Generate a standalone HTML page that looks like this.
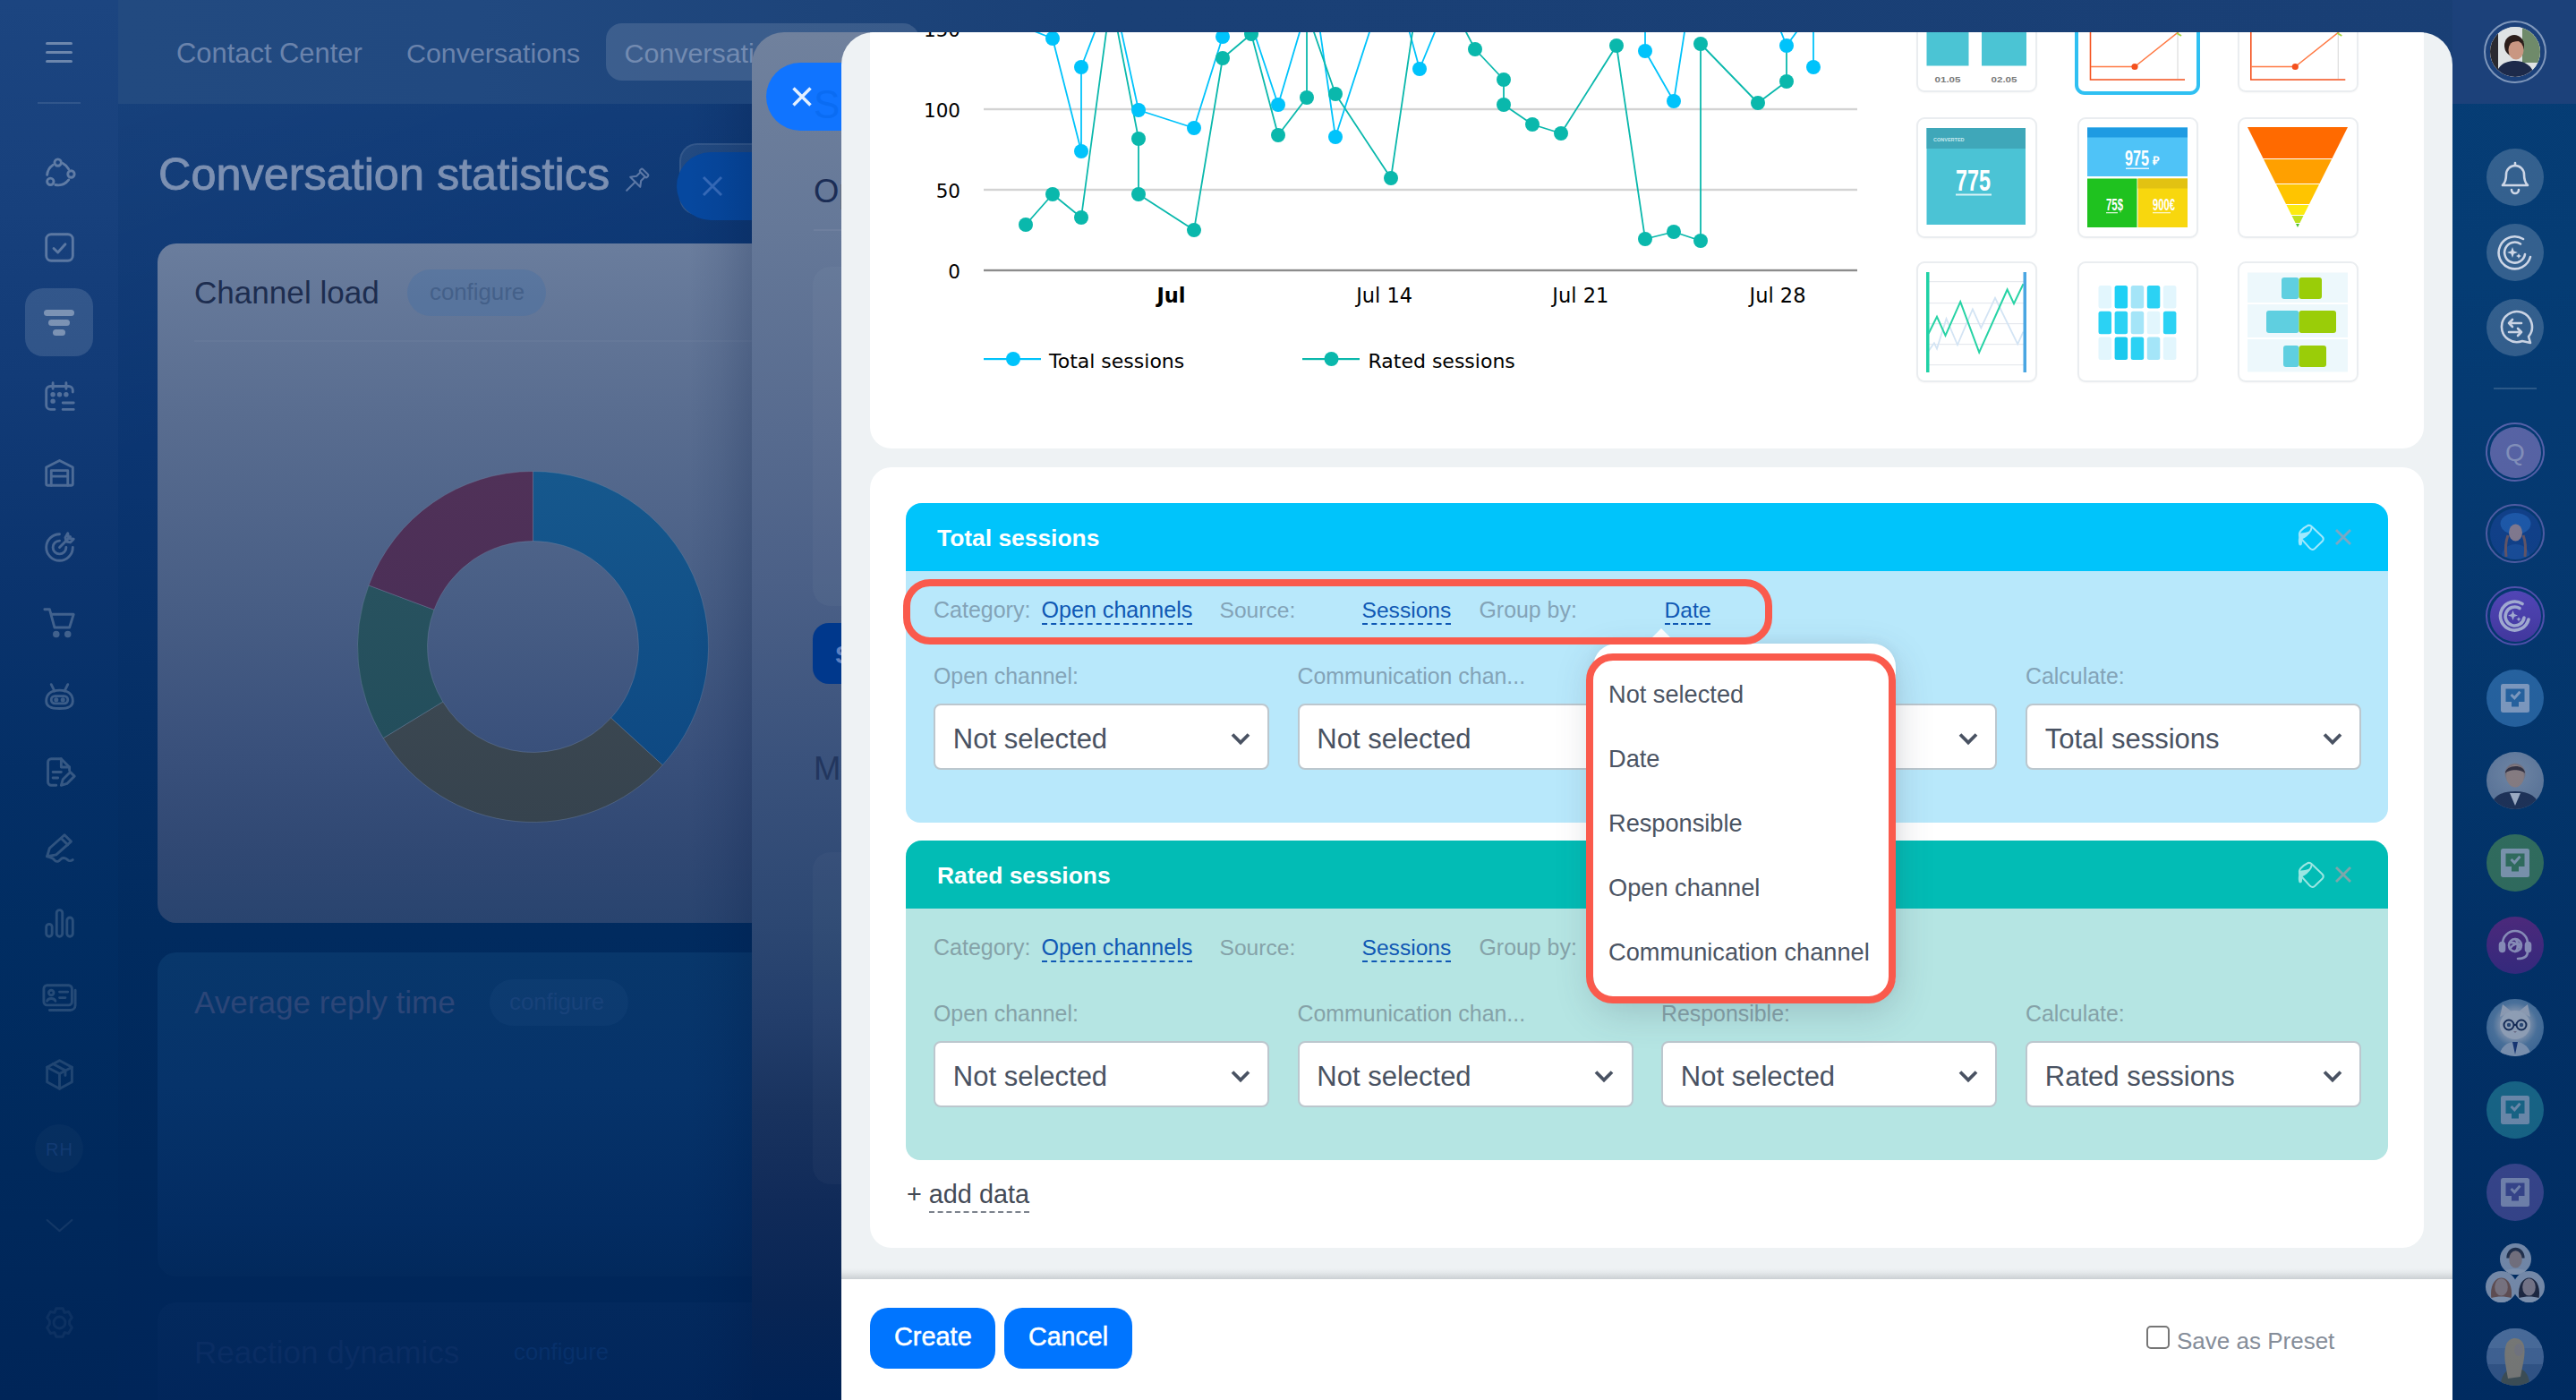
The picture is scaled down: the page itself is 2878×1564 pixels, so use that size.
<!DOCTYPE html>
<html lang="en"><head><meta charset="utf-8"><title>Conversation statistics</title>
<style>
html,body{margin:0;padding:0}
body{width:2878px;height:1564px;overflow:hidden;position:relative;font-family:"Liberation Sans",sans-serif;
background:linear-gradient(180deg,#113c79 0,#0e3976 130px,#0b3571 500px,#052f66 800px,#012b5f 1040px,#00285b 1300px,#002559 1564px);}
.a{position:absolute}
.t{position:absolute;white-space:pre;line-height:1}
svg{position:absolute;overflow:visible}
.lnk{color:#0f58b4;border-bottom:2px dashed #0f58b4}
.sel{position:absolute;height:70px;width:371px;background:#fff;border:2px solid #bcc7ce;border-radius:8px}
.sel svg{right:19.5px;top:30px}
</style></head><body>

<div class="a" style="left:0px;top:0px;width:132px;height:1564px;background:linear-gradient(180deg,#1c4580 0,#18417d 200px,#123b77 420px,#0b346e 640px,#042f66 860px,#012d62 1040px,#00295c 1300px,#002558 1564px);"></div>
<div class="a" style="left:132px;top:0px;width:2746px;height:116px;background:linear-gradient(90deg,#224a80 0,#214980 400px,#1d447a 800px,#1a4076 1100px,#193f75 100%);"></div>
<div class="a" style="left:132px;top:116px;width:720px;height:420px;background:linear-gradient(160deg,rgba(255,255,255,.035) 0,rgba(255,255,255,0) 60%);"></div>
<div class="a" style="left:51px;top:46.5px;width:30px;height:3px;background:rgba(255,255,255,.36);border-radius:2px"></div>
<div class="a" style="left:51px;top:56.5px;width:30px;height:3px;background:rgba(255,255,255,.36);border-radius:2px"></div>
<div class="a" style="left:51px;top:66.5px;width:30px;height:3px;background:rgba(255,255,255,.36);border-radius:2px"></div>
<div class="a" style="left:42px;top:114px;width:48px;height:2px;background:rgba(255,255,255,.10);"></div>
<div class="t" style="left:197px;top:42px;font-size:30.9px;line-height:35px;color:#6a83ac;">Contact Center</div>
<div class="t" style="left:454px;top:42px;font-size:30.4px;line-height:34px;color:#6a83ac;">Conversations</div>
<div class="a" style="left:677px;top:26px;width:350px;height:64px;background:rgba(255,255,255,.13);border-radius:18px"></div>
<div class="t" style="left:697.5px;top:42px;font-size:30.4px;line-height:34px;color:#738bb1;">Conversation statistics</div>
<div class="t" style="left:177px;top:166px;font-size:50.4px;line-height:57px;color:#7c90b2;-webkit-text-stroke:0.9px #7c90b2;">Conversation statistics</div>
<svg style="left:697px;top:188.5px;" width="28" height="28" viewBox="0 0 28 28"><g transform="translate(14.500,12.500) rotate(45)" fill="none" stroke="#5c78a6" stroke-width="2.100" stroke-linejoin="round" stroke-linecap="round"><rect x="-5.500" y="-13.500" width="11" height="4.200" rx="1.500"/><path d="M-3.600 -9.300V-3L-7.800 2.500H7.800L3.600 -3V-9.300"/><path d="M0 2.500V16"/></g></svg>
<div class="a" style="left:759px;top:160px;width:120px;height:80px;background:rgba(255,255,255,.08);border-radius:20px;border:2px solid rgba(255,255,255,.08);box-sizing:border-box"></div>
<div class="a" style="left:756px;top:170px;width:130px;height:76px;background:#06489f;border-radius:38px 0 0 38px"></div>
<svg style="left:782.5px;top:194.5px;" width="26" height="26" viewBox="0 0 26 26"><path d="M3 3L23 23M23 3L3 23" stroke="#376cbb" stroke-width="3" fill="none"/></svg>
<div class="a" style="left:176px;top:272px;width:700px;height:759px;background:linear-gradient(180deg,#6a7d9d 0,#596d90 190px,#485e85 400px,#39507b 570px,#304873 680px,#29446f 759px);border-radius:21px 0 0 21px"></div>
<div class="t" style="left:217px;top:307px;font-size:35.1px;line-height:39px;color:#1d2d4f;">Channel load</div>
<div class="a" style="left:455px;top:301px;width:155px;height:52px;background:rgba(60,110,170,.30);border-radius:26px"></div>
<div class="t" style="left:480px;top:312px;font-size:25.8px;line-height:28px;color:#446089;">configure</div>
<div class="a" style="left:217px;top:380px;width:640px;height:2px;background:rgba(255,255,255,.035);"></div>
<svg style="left:0px;top:0px;" width="900" height="1100" viewBox="0 0 900 1100"><defs><linearGradient id="dg0" x1="0" y1="0" x2="0" y2="1"><stop offset="0" stop-color="#16588d"/><stop offset="1" stop-color="#0e4983"/></linearGradient><linearGradient id="dg1" x1="0" y1="0" x2="0" y2="1"><stop offset="0" stop-color="#3b4751"/><stop offset="1" stop-color="#36434e"/></linearGradient><linearGradient id="dg2" x1="0" y1="0" x2="0" y2="1"><stop offset="0" stop-color="#28525f"/><stop offset="1" stop-color="#234e5c"/></linearGradient><linearGradient id="dg3" x1="0" y1="0" x2="0" y2="1"><stop offset="0" stop-color="#503158"/><stop offset="1" stop-color="#4b2f57"/></linearGradient></defs><path d="M595.5 526.5A196 196 0 0 1 740.2 854.7L682.6 802.1A118 118 0 0 0 595.5 604.5Z" fill="url(#dg0)" stroke="rgba(120,140,170,.35)" stroke-width="1"/><path d="M740.2 854.7A196 196 0 0 1 428.2 824.6L494.8 784.0A118 118 0 0 0 682.6 802.1Z" fill="url(#dg1)" stroke="rgba(120,140,170,.35)" stroke-width="1"/><path d="M428.2 824.6A196 196 0 0 1 411.9 653.9L485.0 681.2A118 118 0 0 0 494.8 784.0Z" fill="url(#dg2)" stroke="rgba(120,140,170,.35)" stroke-width="1"/><path d="M411.9 653.9A196 196 0 0 1 595.5 526.5L595.5 604.5A118 118 0 0 0 485.0 681.2Z" fill="url(#dg3)" stroke="rgba(120,140,170,.35)" stroke-width="1"/></svg>
<div class="a" style="left:176px;top:1064px;width:700px;height:362px;background:linear-gradient(180deg,#08376b 0,#06336a 150px,#032c62 300px,#02295c 362px);border-radius:21px 0 0 21px"></div>
<div class="t" style="left:217px;top:1100px;font-size:35.1px;line-height:39px;color:#2c4678;">Average reply time</div>
<div class="a" style="left:547px;top:1094px;width:155px;height:52px;background:rgba(120,160,210,.05);border-radius:26px"></div>
<div class="t" style="left:569px;top:1105px;font-size:25.8px;line-height:28px;color:#18427a;">configure</div>
<div class="a" style="left:176px;top:1455px;width:664px;height:140px;background:linear-gradient(180deg,#03295d 0,#01255a 100%);border-radius:21px 0 0 21px"></div>
<div class="t" style="left:217px;top:1491px;font-size:35.1px;line-height:39px;color:#0a2d63;">Reaction dynamics</div>
<div class="t" style="left:574px;top:1496px;font-size:25.8px;line-height:28px;color:#07306a;">configure</div>
<svg style="left:47.5px;top:175.5px;" width="37" height="37" viewBox="0 0 40 40"><g fill="none" stroke="#fff" stroke-width="3.1" stroke-linecap="round" stroke-linejoin="round" opacity="0.3093282984483979"><circle cx="18" cy="6" r="4"/><circle cx="34" cy="20" r="4"/><circle cx="9" cy="29" r="4"/><path d="M12 9A16 16 0 0 0 5 21"/><path d="M24 7A16 16 0 0 1 31 14"/><path d="M31 27A16 16 0 0 1 15 33"/></g></svg>
<svg style="left:47.5px;top:257.5px;" width="37" height="37" viewBox="0 0 40 40"><g fill="none" stroke="#fff" stroke-width="3.1" stroke-linecap="round" stroke-linejoin="round" opacity="0.2974623605126993"><rect x="4" y="4" width="32" height="32" rx="6"/><path d="M13 21l5 5 9-10"/></g></svg>
<div class="a" style="left:28px;top:322px;width:76px;height:76px;background:rgba(255,255,255,.13);border-radius:20px"></div>
<svg style="left:46px;top:340px;" width="40" height="40" viewBox="0 0 40 40"><g fill="#fff" opacity=".36"><rect x="3" y="6" width="34" height="7" rx="3.5"/><rect x="8" y="17" width="24" height="7" rx="3.5"/><rect x="13" y="28" width="14" height="7" rx="3.5"/></g></svg>
<svg style="left:47.5px;top:424.5px;" width="37" height="37" viewBox="0 0 40 40"><g fill="none" stroke="#fff" stroke-width="3.1" stroke-linecap="round" stroke-linejoin="round" opacity="0.2712166478749272"><path d="M36 14V12a5 5 0 0 0-5-5H9a5 5 0 0 0-5 5v18a5 5 0 0 0 5 5h5"/><path d="M12 3v7M28 3v7"/><path d="M24 27h13M24 35h13"/><circle cx="12" cy="17" r="1.4" fill="#fff"/><circle cx="20" cy="17" r="1.4" fill="#fff"/><circle cx="28" cy="17" r="1.4" fill="#fff"/><circle cx="12" cy="25" r="1.4" fill="#fff"/></g></svg>
<svg style="left:47.5px;top:508.5px;" width="37" height="37" viewBox="0 0 40 40"><g fill="none" stroke="#fff" stroke-width="3.1" stroke-linecap="round" stroke-linejoin="round" opacity="0.256968039470176"><path d="M4 34V14l16-8 16 8v20a2 2 0 0 1-2 2H6a2 2 0 0 1-2-2z"/><path d="M10 36V18h20v18M10 25h20"/></g></svg>
<svg style="left:47.5px;top:592.5px;" width="37" height="37" viewBox="0 0 40 40"><g fill="none" stroke="#fff" stroke-width="3.1" stroke-linecap="round" stroke-linejoin="round" opacity="0.24213797607305873"><path d="M36 20A16 16 0 1 1 20 4"/><path d="M28 20A8 8 0 1 1 20 12"/><path d="M20 20L33 7M30 3l1 6 6 1-4 4-5-1-1-5z"/></g></svg>
<svg style="left:47.5px;top:676.5px;" width="37" height="37" viewBox="0 0 40 40"><g fill="none" stroke="#fff" stroke-width="3.1" stroke-linecap="round" stroke-linejoin="round" opacity="0.22678788061108635"><path d="M2 4h6l6 22h18l5-16H11"/><circle cx="16" cy="34" r="2.5" fill="#fff"/><circle cx="30" cy="34" r="2.5" fill="#fff"/></g></svg>
<svg style="left:47.5px;top:759.5px;" width="37" height="37" viewBox="0 0 40 40"><g fill="none" stroke="#fff" stroke-width="3.1" stroke-linecap="round" stroke-linejoin="round" opacity="0.21115684121885703"><path d="M4 25c0-9 7-13 16-13s16 4 16 13c0 6-4 9-16 9S4 31 4 25z"/><rect x="10" y="19" width="20" height="9" rx="4.5"/><path d="M10 5l4 8M30 5l-4 8"/><circle cx="16" cy="23.5" r="1.2" fill="#fff"/><circle cx="24" cy="23.5" r="1.2" fill="#fff"/></g></svg>
<svg style="left:47.5px;top:843.5px;" width="37" height="37" viewBox="0 0 40 40"><g fill="none" stroke="#fff" stroke-width="3.1" stroke-linecap="round" stroke-linejoin="round" opacity="0.19490671180406272"><path d="M16 36H10a4 4 0 0 1-4-4V8a4 4 0 0 1 4-4h12l10 10v4"/><path d="M22 4v10h10"/><path d="M12 20h10M12 27h6"/><path d="M22 36l2-7 9-9 5 5-9 9z"/></g></svg>
<svg style="left:47.5px;top:928.5px;" width="37" height="37" viewBox="0 0 40 40"><g fill="none" stroke="#fff" stroke-width="3.1" stroke-linecap="round" stroke-linejoin="round" opacity="0.1780547373844573"><path d="M5 30l3-10L26 4l8 8-18 16z"/><path d="M22 8l8 8"/><path d="M5 30l6 2c3 1 3 5 7 4s3-5 8-4 4 6 10 2"/></g></svg>
<svg style="left:47.5px;top:1011.5px;" width="37" height="37" viewBox="0 0 40 40"><g fill="none" stroke="#fff" stroke-width="3.1" stroke-linecap="round" stroke-linejoin="round" opacity="0.16122962272830074"><rect x="4" y="22" width="7" height="15" rx="3.5"/><rect x="16.5" y="5" width="7" height="32" rx="3.5"/><rect x="29" y="14" width="7" height="23" rx="3.5"/></g></svg>
<svg style="left:47.5px;top:1096.5px;" width="37" height="37" viewBox="0 0 40 40"><g fill="none" stroke="#fff" stroke-width="3.1" stroke-linecap="round" stroke-linejoin="round" opacity="0.1436440452624253"><rect x="1" y="4" width="34" height="24" rx="4"/><path d="M39 10v18a6 6 0 0 1-6 6H8"/><circle cx="10" cy="13" r="3"/><path d="M5 23c1-4 9-4 10 0"/><path d="M20 12h10M20 19h7"/></g></svg>
<svg style="left:47.5px;top:1181.5px;" width="37" height="37" viewBox="0 0 40 40"><g fill="none" stroke="#fff" stroke-width="3.1" stroke-linecap="round" stroke-linejoin="round" opacity="0.12571981245531402"><path d="M20 3l15 8v18l-15 8-15-8V11z"/><path d="M5 11l15 8 15-8M20 19v18M12 7l15 8v6"/></g></svg>
<div class="a" style="left:39px;top:1256px;width:54px;height:54px;background:rgba(255,255,255,.025);border-radius:50%"></div>
<div class="t" style="left:51px;top:1273px;font-size:20px;line-height:22px;color:#133b73;letter-spacing:1px">RH</div>
<svg style="left:47.5px;top:1350.5px;" width="37" height="37" viewBox="0 0 40 40"><g fill="none" stroke="#fff" stroke-width="2.4" stroke-linecap="round" stroke-linejoin="round" opacity="0.075"><path d="M5 13l15 13 15-13"/></g></svg>
<svg style="left:47.5px;top:1458.5px;" width="37" height="37" viewBox="0 0 40 40"><g fill="none" stroke="#fff" stroke-width="3.1" stroke-linecap="round" stroke-linejoin="round" opacity="0.05"><circle cx="20" cy="20" r="7"/><path d="M16 3h8l2 5 5-1 4 7-3 4v4l3 4-4 7-5-1-2 5h-8l-2-5-5 1-4-7 3-4v-4l-3-4 4-7 5 1z"/></g></svg>
<div class="a" style="left:770px;top:116px;width:70px;height:1448px;background:linear-gradient(90deg,rgba(0,20,60,0) 0,rgba(0,20,60,.07) 50%,rgba(0,20,60,.19) 100%);"></div>
<div class="a" style="left:840px;top:36px;width:200px;height:1528px;background:linear-gradient(180deg,#70819d 0,#657898 220px,#576b8f 444px,#4b6087 614px,#3a527c 814px,#2c4772 1000px,#233e6b 1100px,#19335f 1200px,#112b59 1300px,#082554 1420px,#002255 1528px);border-radius:36px 0 0 0"></div>
<div class="a" style="left:907.5px;top:298px;width:100px;height:378.5px;background:rgba(255,255,255,.032);border-radius:20px 0 0 20px"></div>
<div class="a" style="left:907.5px;top:952px;width:100px;height:371px;background:rgba(255,255,255,.028);border-radius:20px 0 0 20px"></div>
<div class="a" style="left:856px;top:70px;width:120px;height:76px;background:#1074ff;border-radius:38px 0 0 38px"></div>
<svg style="left:885px;top:97px;" width="22" height="22" viewBox="0 0 22 22"><path d="M1.500 1.500L20.500 20.500M20.500 1.500L1.500 20.500" stroke="#e4f0ff" stroke-width="3.500" fill="none"/></svg>
<div class="t" style="left:909px;top:92px;font-size:44px;line-height:49px;color:#0a6cf3;">S</div>
<div class="t" style="left:909px;top:192.5px;font-size:36.5px;line-height:41px;color:#1b2d55;">Op</div>
<div class="a" style="left:909px;top:256px;width:60px;height:2px;background:rgba(255,255,255,.06);"></div>
<div class="a" style="left:908px;top:696px;width:80px;height:68px;background:#00388c;border-radius:18px 0 0 18px"></div>
<div class="t" style="left:933px;top:716px;font-size:28px;line-height:31px;color:#5d80c0;font-weight:700;">S</div>
<div class="t" style="left:909px;top:838px;font-size:36.5px;line-height:41px;color:#22365e;">M</div>
<div class="a" style="left:2740px;top:0px;width:138px;height:1564px;background:linear-gradient(180deg,#063d75 0,#053c74 300px,#053a72 600px,#03376d 900px,#02346a 1040px,#013167 1300px,#002e64 1564px);"></div>
<div class="a" style="left:2740px;top:0px;width:138px;height:116px;background:#1c417a;"></div>
<div class="a" style="left:2775px;top:23px;width:70px;height:70px;background:transparent;border-radius:50%;border:2.5px solid #7f97bb;box-sizing:border-box"></div>
<div class="a" style="left:2782px;top:30px;width:56px;height:56px;background:radial-gradient(circle at 45% 40%,#c89a84 0,#b07f6a 28%,#3a2a2a 46%,#e6e9ec 47%,#cfd6d8 100%);border-radius:50%;"></div>
<svg style="left:2782px;top:30px;" width="56" height="56" viewBox="0 0 56 56"><defs><clipPath id="avc"><circle cx="28" cy="28" r="28"/></clipPath></defs><g clip-path="url(#avc)"><rect width="56" height="56" fill="#dfe3e4"/><rect x="36" width="20" height="40" fill="#6f8a6a"/><rect x="0" width="9" height="56" fill="#2a2a30"/><path d="M6 56c2-14 12-18 22-18s20 5 22 18z" fill="#1d2a4a"/><ellipse cx="27" cy="21" rx="11" ry="12" fill="#2b1d1a"/><ellipse cx="29" cy="26" rx="8.5" ry="10.5" fill="#c99782"/><path d="M18 20c2-8 14-10 20-3-6-2-12-1-20 3z" fill="#2b1d1a"/></g></svg>
<div class="a" style="left:2778px;top:166px;width:64px;height:64px;background:rgba(255,255,255,.19);border-radius:50%;"></div>
<div class="a" style="left:2778px;top:250px;width:64px;height:64px;background:rgba(255,255,255,.19);border-radius:50%;"></div>
<div class="a" style="left:2778px;top:334px;width:64px;height:64px;background:rgba(255,255,255,.19);border-radius:50%;"></div>
<svg style="left:2790px;top:178px;" width="40" height="40" viewBox="0 0 40 40"><g fill="none" stroke="#cdd6e6" stroke-width="2.6" stroke-linecap="round" stroke-linejoin="round"><path d="M6 29h28c-3-3-4-6-4-12a10 10 0 0 0-20 0c0 6-1 9-4 12z"/><path d="M16 34a4 4 0 0 0 8 0"/><path d="M20 4v3"/></g></svg>
<svg style="left:2790px;top:262px;" width="40" height="40" viewBox="0 0 40 40"><g fill="none" stroke="#cdd6e6" stroke-width="2.6" stroke-linecap="round"><path d="M37 25A18 18 0 1 1 29 5"/><path d="M31 22A11.5 11.5 0 1 1 26 10.5"/><path d="M17 14l1.6 4.4L23 20l-4.4 1.6L17 26l-1.6-4.4L11 20l4.4-1.6z" fill="#cdd6e6" stroke="none"/><path d="M24 21l.9 2.1 2.1.9-2.1.9-.9 2.1-.9-2.1-2.1-.9 2.1-.9z" fill="#cdd6e6" stroke="none"/></g></svg>
<svg style="left:2790px;top:346px;" width="40" height="40" viewBox="0 0 40 40"><g fill="none" stroke="#cdd6e6" stroke-width="2.6" stroke-linecap="round" stroke-linejoin="round"><path d="M35 30A17 17 0 1 0 28 35l9 2z"/><path d="M27 15H13l4-4M13 15l4 4"/><path d="M13 25h14l-4-4M27 25l-4 4"/></g></svg>
<div class="a" style="left:2786px;top:433px;width:48px;height:2px;background:rgba(255,255,255,.16);"></div>
<div class="a" style="left:2777px;top:472px;width:66px;height:66px;background:transparent;border-radius:50%;border:2px solid #5a64ad;box-sizing:border-box"></div>
<div class="a" style="left:2781.5px;top:476.5px;width:57px;height:57px;background:#5b66a8;border-radius:50%;"></div>
<div class="t" style="left:2799px;top:490px;font-size:28px;line-height:31px;color:#8995bf;">Q</div>
<div class="a" style="left:2777px;top:563px;width:66px;height:66px;background:transparent;border-radius:50%;border:2px solid #5560a8;box-sizing:border-box"></div>
<svg style="left:2781.5px;top:567.5px;" width="57" height="57" viewBox="0 0 57 57"><defs><clipPath id="gvc"><circle cx="28.500" cy="28.500" r="28.500"/></clipPath></defs><g clip-path="url(#gvc)"><rect width="57" height="57" fill="#12428c"/><ellipse cx="28.500" cy="17" rx="17" ry="12" fill="#1f5cae"/><path d="M12 57c1-12 8-17 16.500-17S44 45 45 57z" fill="#1a4f9c"/><ellipse cx="28.500" cy="27" rx="7.500" ry="9.500" fill="#8a7f92"/><path d="M20 30c-3 8-3 16-2 24M37 30c3 8 3 16 2 24" stroke="#6a5866" stroke-width="3" fill="none"/></g></svg>
<div class="a" style="left:2777px;top:655px;width:66px;height:66px;background:transparent;border-radius:50%;border:2px solid #5a55b5;box-sizing:border-box"></div>
<div class="a" style="left:2781.5px;top:659.5px;width:57px;height:57px;background:linear-gradient(180deg,#5a49c0 0,#4a3aa6 100%);border-radius:50%;"></div>
<svg style="left:2792px;top:670px;" width="36" height="36" viewBox="0 0 36 36"><g fill="none" stroke="#b3b9de" stroke-width="3.6" stroke-linecap="round"><path d="M33 22A16 16 0 1 1 26 4.5"/><path d="M28 20A10.5 10.5 0 1 1 23 9.5"/><path d="M15.5 12l1.5 4 4 1.5-4 1.5-1.5 4-1.5-4-4-1.5 4-1.5z" fill="#b3b9de" stroke="none"/><path d="M22 19l.8 1.9 1.9.8-1.9.8-.8 1.9-.8-1.9-1.9-.8 1.9-.8z" fill="#b3b9de" stroke="none"/></g></svg>
<div class="a" style="left:2778px;top:748px;width:64px;height:64px;background:#2b6aa8;border-radius:50%;"></div>
<svg style="left:2792px;top:762px;" width="36" height="36" viewBox="0 0 36 36"><rect x="2" y="2" width="32" height="32" rx="2.500" fill="#8ea8cc"/><path d="M7.500 7.500h21v14.500h-6.500v5.500H14v-5.500H7.500z" fill="#2b6aa8"/><path d="M13.500 14l3.800 3.800 6.200-7" stroke="#8ea8cc" stroke-width="3" fill="none"/></svg>
<div class="a" style="left:2778px;top:840px;width:64px;height:64px;background:radial-gradient(circle at 50% 38%,#9c8a86 0,#8a7a7a 20%,#7b90ad 24%,#6f86a6 60%,#6a819f 100%);border-radius:50%;"></div>
<svg style="left:2778px;top:840px;" width="64" height="64" viewBox="0 0 64 64"><defs><clipPath id="mvc"><circle cx="32" cy="32" r="32"/></clipPath></defs><g clip-path="url(#mvc)"><path d="M4 64c2-14 12-20 28-20s26 6 28 20z" fill="#233457"/><path d="M26 46l6 14 6-14z" fill="#b9c4d6"/><ellipse cx="32" cy="27" rx="10" ry="12.5" fill="#9d8b88"/><path d="M21 24c0-10 22-11 22 0-4-5-18-5-22 0z" fill="#3a3440"/></g></svg>
<div class="a" style="left:2778px;top:932px;width:64px;height:64px;background:#3a7a5e;border-radius:50%;"></div>
<svg style="left:2792px;top:946px;" width="36" height="36" viewBox="0 0 36 36"><rect x="2" y="2" width="32" height="32" rx="2.500" fill="#93a9bd"/><path d="M7.500 7.500h21v14.500h-6.500v5.500H14v-5.500H7.500z" fill="#3a7a5e"/><path d="M13.500 14l3.800 3.800 6.200-7" stroke="#93a9bd" stroke-width="3" fill="none"/></svg>
<div class="a" style="left:2778px;top:1024px;width:64px;height:64px;background:linear-gradient(180deg,#5f2a84 0,#432a86 100%);border-radius:50%;"></div>
<svg style="left:2790px;top:1036px;" width="40" height="40" viewBox="0 0 40 40"><g fill="none" stroke="#a9a6cf" stroke-width="2.6" stroke-linecap="round"><path d="M6 24v-6a14 14 0 0 1 28 0v6"/><rect x="3" y="17" width="5" height="10" rx="2.5" fill="#a9a6cf"/><rect x="32" y="17" width="5" height="10" rx="2.5" fill="#a9a6cf"/><path d="M34 27c0 6-5 8-11 8"/><circle cx="20" cy="20" r="7"/><path d="M20 13c4 3 4 11 0 14M14 17c5-1 11 3 12 7M14 24c3-5 9-7 12-5"/></g></svg>
<div class="a" style="left:2778px;top:1116px;width:64px;height:64px;background:radial-gradient(circle at 50% 45%,#b9c2d0 0,#a9b4c6 30%,#5f86ad 52%,#3f6d9e 100%);border-radius:50%;"></div>
<svg style="left:2778px;top:1116px;" width="64" height="64" viewBox="0 0 64 64"><defs><clipPath id="cvc"><circle cx="32" cy="32" r="32"/></clipPath></defs><g clip-path="url(#cvc)"><path d="M14 64c2-10 8-16 18-16s16 6 18 16z" fill="#9fb0c8"/><path d="M29 48l3 14 3-14z" fill="#1d3a7a"/><path d="M15 20l3-14 10 8zM49 20l-3-14-10 8z" fill="#b4bccb"/><ellipse cx="32" cy="29" rx="17" ry="16" fill="#b9c2d0"/><circle cx="25" cy="29" r="5.5" fill="none" stroke="#1c2d55" stroke-width="2"/><circle cx="39" cy="29" r="5.5" fill="none" stroke="#1c2d55" stroke-width="2"/><circle cx="25" cy="29" r="2.2" fill="#35507c"/><circle cx="39" cy="29" r="2.2" fill="#35507c"/><path d="M30.500 29h3" stroke="#1c2d55" stroke-width="2"/><path d="M30 36l2 2 2-2z" fill="#8a7f8f"/></g></svg>
<div class="a" style="left:2778px;top:1208px;width:64px;height:64px;background:#1f7893;border-radius:50%;"></div>
<svg style="left:2792px;top:1222px;" width="36" height="36" viewBox="0 0 36 36"><rect x="2" y="2" width="32" height="32" rx="2.500" fill="#8ea9c4"/><path d="M7.500 7.500h21v14.500h-6.500v5.500H14v-5.500H7.500z" fill="#1f7893"/><path d="M13.500 14l3.800 3.800 6.200-7" stroke="#8ea9c4" stroke-width="3" fill="none"/></svg>
<div class="a" style="left:2778px;top:1300px;width:64px;height:64px;background:#4a4f9b;border-radius:50%;"></div>
<svg style="left:2792px;top:1314px;" width="36" height="36" viewBox="0 0 36 36"><rect x="2" y="2" width="32" height="32" rx="2.500" fill="#9aa3c9"/><path d="M7.500 7.500h21v14.500h-6.500v5.500H14v-5.500H7.500z" fill="#4a4f9b"/><path d="M13.500 14l3.800 3.800 6.200-7" stroke="#9aa3c9" stroke-width="3" fill="none"/></svg>
<svg style="left:2792.5px;top:1388.5px;" width="35.0" height="35.0" viewBox="0 0 35.0 35.0"><defs><clipPath id="f1"><circle cx="17.5" cy="17.5" r="17.5"/></clipPath></defs><g clip-path="url(#f1)"><rect width="35.0" height="35.0" fill="#a3b2ca"/><path d="M7.3 16.6c0-15.8 20.3-15.8 20.3 0z" fill="#2e3446"/><ellipse cx="17.5" cy="17.9" rx="7.3" ry="9.6" fill="#a38f8c"/><path d="M0 35.0c3.5-8.8 31.5-8.8 35.0 0z" fill="#b7c2d4"/></g></svg>
<svg style="left:2777px;top:1419.5px;" width="35.0" height="35.0" viewBox="0 0 35.0 35.0"><defs><clipPath id="f2"><circle cx="17.5" cy="17.5" r="17.5"/></clipPath></defs><g clip-path="url(#f2)"><rect width="35.0" height="35.0" fill="#a9b6cc"/><path d="M6.3 29.8c-3.5-29.8 26.2-29.8 22.4 0z" fill="#8a5f4e"/><ellipse cx="17.5" cy="17.9" rx="7.3" ry="9.6" fill="#ad9590"/><path d="M0 35.0c3.5-8.8 31.5-8.8 35.0 0z" fill="#b7c2d4"/></g></svg>
<svg style="left:2808px;top:1419.5px;" width="35.0" height="35.0" viewBox="0 0 35.0 35.0"><defs><clipPath id="f3"><circle cx="17.5" cy="17.5" r="17.5"/></clipPath></defs><g clip-path="url(#f3)"><rect width="35.0" height="35.0" fill="#a9b6cc"/><path d="M6.3 29.8c-3.5-29.8 26.2-29.8 22.4 0z" fill="#2a2734"/><ellipse cx="17.5" cy="17.9" rx="7.3" ry="9.6" fill="#a8969a"/><path d="M0 35.0c3.5-8.8 31.5-8.8 35.0 0z" fill="#b7c2d4"/></g></svg>
<svg style="left:2778px;top:1484px;" width="64" height="64" viewBox="0 0 64 64"><defs><clipPath id="bvc"><circle cx="32" cy="32" r="32"/></clipPath></defs><g clip-path="url(#bvc)"><rect width="64" height="64" fill="#5f7fae"/><rect y="0" width="64" height="22" fill="#6c8cb8"/><rect y="40" width="64" height="24" fill="#4a6a9a"/><path d="M16 64c0-12 6-18 14-20l10 2c6 4 8 10 8 18z" fill="#5b6152"/><path d="M22 18c4-10 18-9 20 2 2 10-2 22-4 34l-14 2c-2-12-6-26-2-38z" fill="#b1a083"/><ellipse cx="36" cy="24" rx="5" ry="7" fill="#a99a90"/></g></svg>
<div class="a" style="left:2740px;top:300px;width:138px;height:1264px;background:linear-gradient(180deg,rgba(0,38,90,0) 0,rgba(0,38,90,.14) 500px,rgba(0,38,90,.36) 1264px);"></div>
<div class="a" style="left:940px;top:36px;width:1800px;height:1528px;background:#eef2f4;border-radius:36px 36px 0 0;overflow:hidden">
<div class="a" style="left:32px;top:-200px;width:1736px;height:665px;background:#fff;border-radius:24px"></div>
<svg style="left:-940px;top:-36px" width="2878" height="1564" viewBox="0 0 2878 1564"><rect x="1099" y="120.8" width="976" height="2.4" fill="#d3d3d3"/><rect x="1099" y="210.8" width="976" height="2.4" fill="#d3d3d3"/><rect x="1099" y="300.8" width="976" height="2.4" fill="#8c8c8c"/><polyline points="1146,31 1176,43 1208,169 1208,75 1240,-8 1240,-24 1272,123 1334,143 1366,41 1398,-20 1398,27 1428,117 1460,9 1460,-67 1492,153 1554,-38 1554,-40 1586,77 1617,2" fill="none" stroke="#00c3fb" stroke-width="1.8" stroke-linejoin="round"/><polyline points="1838,-20 1838,57 1870,113 1900,-80" fill="none" stroke="#00c3fb" stroke-width="1.8" stroke-linejoin="round"/><polyline points="1964,-29 1996,51 2026,10 2026,75" fill="none" stroke="#00c3fb" stroke-width="1.8" stroke-linejoin="round"/><polyline points="1146,251 1176,217 1208,243 1240,6 1240,-10 1272,155 1272,217 1334,257 1366,65 1398,38 1428,151 1460,109 1460,13 1492,105 1554,199 1586,-18 1617,-4 1648,55 1680,89 1680,117 1712,139 1744,149 1806,51 1838,267 1870,259 1900,269 1900,49 1964,115 1996,91 1996,52" fill="none" stroke="#0ab8ac" stroke-width="1.8" stroke-linejoin="round"/><circle cx="1176" cy="43" r="8" fill="#00c3fb"/><circle cx="1208" cy="169" r="8" fill="#00c3fb"/><circle cx="1208" cy="75" r="8" fill="#00c3fb"/><circle cx="1272" cy="123" r="8" fill="#00c3fb"/><circle cx="1334" cy="143" r="8" fill="#00c3fb"/><circle cx="1366" cy="41" r="8" fill="#00c3fb"/><circle cx="1428" cy="117" r="8" fill="#00c3fb"/><circle cx="1492" cy="153" r="8" fill="#00c3fb"/><circle cx="1586" cy="77" r="8" fill="#00c3fb"/><circle cx="1838" cy="57" r="8" fill="#00c3fb"/><circle cx="1870" cy="113" r="8" fill="#00c3fb"/><circle cx="1996" cy="51" r="8" fill="#00c3fb"/><circle cx="2026" cy="75" r="8" fill="#00c3fb"/><circle cx="1146" cy="251" r="8" fill="#0ab8ac"/><circle cx="1176" cy="217" r="8" fill="#0ab8ac"/><circle cx="1208" cy="243" r="8" fill="#0ab8ac"/><circle cx="1272" cy="155" r="8" fill="#0ab8ac"/><circle cx="1272" cy="217" r="8" fill="#0ab8ac"/><circle cx="1334" cy="257" r="8" fill="#0ab8ac"/><circle cx="1366" cy="65" r="8" fill="#0ab8ac"/><circle cx="1398" cy="38" r="8" fill="#0ab8ac"/><circle cx="1428" cy="151" r="8" fill="#0ab8ac"/><circle cx="1460" cy="109" r="8" fill="#0ab8ac"/><circle cx="1492" cy="105" r="8" fill="#0ab8ac"/><circle cx="1554" cy="199" r="8" fill="#0ab8ac"/><circle cx="1648" cy="55" r="8" fill="#0ab8ac"/><circle cx="1680" cy="89" r="8" fill="#0ab8ac"/><circle cx="1680" cy="117" r="8" fill="#0ab8ac"/><circle cx="1712" cy="139" r="8" fill="#0ab8ac"/><circle cx="1744" cy="149" r="8" fill="#0ab8ac"/><circle cx="1806" cy="51" r="8" fill="#0ab8ac"/><circle cx="1838" cy="267" r="8" fill="#0ab8ac"/><circle cx="1870" cy="259" r="8" fill="#0ab8ac"/><circle cx="1900" cy="269" r="8" fill="#0ab8ac"/><circle cx="1900" cy="49" r="8" fill="#0ab8ac"/><circle cx="1964" cy="115" r="8" fill="#0ab8ac"/><circle cx="1996" cy="91" r="8" fill="#0ab8ac"/><text x="1073" y="41" text-anchor="end" font-size="21.5" font-family="'DejaVu Sans',sans-serif" fill="#000">150</text><text x="1073" y="131" text-anchor="end" font-size="21.5" font-family="'DejaVu Sans',sans-serif" fill="#000">100</text><text x="1073" y="221" text-anchor="end" font-size="21.5" font-family="'DejaVu Sans',sans-serif" fill="#000">50</text><text x="1073" y="311" text-anchor="end" font-size="21.5" font-family="'DejaVu Sans',sans-serif" fill="#000">0</text><text x="1308.5" y="338" text-anchor="middle" font-size="22.5" font-weight="700" font-family="'DejaVu Sans',sans-serif" fill="#000">Jul</text><text x="1546.6" y="338" text-anchor="middle" font-size="22.5" font-family="'DejaVu Sans',sans-serif" fill="#000">Jul 14</text><text x="1765.8" y="338" text-anchor="middle" font-size="22.5" font-family="'DejaVu Sans',sans-serif" fill="#000">Jul 21</text><text x="1986" y="338" text-anchor="middle" font-size="22.5" font-family="'DejaVu Sans',sans-serif" fill="#000">Jul 28</text><rect x="1099" y="400" width="64" height="2.2" fill="#00c3fb"/><circle cx="1132" cy="401" r="8" fill="#00c3fb"/><text x="1172" y="410.5" font-size="22" font-family="'DejaVu Sans',sans-serif" fill="#000">Total sessions</text><rect x="1455" y="400" width="64" height="2.2" fill="#0ab8ac"/><circle cx="1487.500" cy="401" r="8" fill="#0ab8ac"/><text x="1528.5" y="410.5" font-size="22" font-family="'DejaVu Sans',sans-serif" fill="#000">Rated sessions</text></svg>
<div class="a" style="left:1200.5px;top:-68px;width:135px;height:135px;background:#fff;border:2px solid #eaedf0;border-radius:9px;box-sizing:border-box;box-shadow:0 1px 2px rgba(0,0,0,.03)"></div>
<div class="a" style="left:1378px;top:-70.5px;width:140px;height:140px;background:#fff;border:4.5px solid #2fc0f2;border-radius:11px;box-sizing:border-box"></div>
<div class="a" style="left:1560px;top:-68px;width:135px;height:135px;background:#fff;border:2px solid #eaedf0;border-radius:9px;box-sizing:border-box;box-shadow:0 1px 2px rgba(0,0,0,.03)"></div>
<div class="a" style="left:1200.5px;top:94.5px;width:135px;height:135px;background:#fff;border:2px solid #eaedf0;border-radius:9px;box-sizing:border-box;box-shadow:0 1px 2px rgba(0,0,0,.03)"></div>
<div class="a" style="left:1380.5px;top:94.5px;width:135px;height:135px;background:#fff;border:2px solid #eaedf0;border-radius:9px;box-sizing:border-box;box-shadow:0 1px 2px rgba(0,0,0,.03)"></div>
<div class="a" style="left:1560px;top:94.5px;width:135px;height:135px;background:#fff;border:2px solid #eaedf0;border-radius:9px;box-sizing:border-box;box-shadow:0 1px 2px rgba(0,0,0,.03)"></div>
<div class="a" style="left:1200.5px;top:256px;width:135px;height:135px;background:#fff;border:2px solid #eaedf0;border-radius:9px;box-sizing:border-box;box-shadow:0 1px 2px rgba(0,0,0,.03)"></div>
<div class="a" style="left:1380.5px;top:256px;width:135px;height:135px;background:#fff;border:2px solid #eaedf0;border-radius:9px;box-sizing:border-box;box-shadow:0 1px 2px rgba(0,0,0,.03)"></div>
<div class="a" style="left:1560px;top:256px;width:135px;height:135px;background:#fff;border:2px solid #eaedf0;border-radius:9px;box-sizing:border-box;box-shadow:0 1px 2px rgba(0,0,0,.03)"></div>
<svg style="left:-940px;top:-36px" width="2878" height="1564" viewBox="0 0 2878 1564"><rect x="2152.500" y="-20" width="47" height="93.500" fill="#4bc4d4"/><rect x="2214" y="-20" width="50" height="93.500" fill="#4bc4d4"/><text x="2176" y="92" text-anchor="middle" font-size="9" font-weight="700" font-family="'Liberation Sans',sans-serif" fill="#7a7a7a" textLength="29" lengthAdjust="spacingAndGlyphs">01.05</text><text x="2239" y="92" text-anchor="middle" font-size="9" font-weight="700" font-family="'Liberation Sans',sans-serif" fill="#7a7a7a" textLength="29" lengthAdjust="spacingAndGlyphs">02.05</text><g transform="translate(0,0)"><path d="M2335.500 -10V89H2441" fill="none" stroke="#f4511e" stroke-width="1.6"/><path d="M2433 -10V88" stroke="#dcdcdc" stroke-width="1.2" fill="none"/><path d="M2336 74.500H2385L2436 34" fill="none" stroke="#ff7a45" stroke-width="1.5"/><circle cx="2385" cy="74.500" r="3.600" fill="#f4511e"/><path d="M2432 37l5 3" stroke="#a5d63c" stroke-width="2"/></g><g transform="translate(179.3,0)"><path d="M2335.500 -10V89H2441" fill="none" stroke="#f4511e" stroke-width="1.6"/><path d="M2433 -10V88" stroke="#dcdcdc" stroke-width="1.2" fill="none"/><path d="M2336 74.500H2385L2436 34" fill="none" stroke="#ff7a45" stroke-width="1.5"/><circle cx="2385" cy="74.500" r="3.600" fill="#f4511e"/><path d="M2432 37l5 3" stroke="#a5d63c" stroke-width="2"/></g><rect x="2152.500" y="143" width="110.500" height="108" fill="#4bc3d5"/><rect x="2152.500" y="143" width="110.500" height="23" fill="#3fa7b9"/><text x="2160" y="158" font-size="5.5" font-weight="700" font-family="'Liberation Sans',sans-serif" fill="#c6e9ef">CONVERTED</text><text x="2204.500" y="213" text-anchor="middle" font-size="33" font-weight="700" font-family="'Liberation Sans',sans-serif" fill="#fff" textLength="39" lengthAdjust="spacingAndGlyphs">775</text><rect x="2185" y="216.500" width="40" height="2" fill="#d9f3f7"/><rect x="2332" y="142.500" width="112" height="54.500" fill="#4fc3f7"/><rect x="2332" y="142.500" width="112" height="11" fill="#1e9be2"/><rect x="2332" y="199.500" width="55.500" height="54.500" fill="#1fc21f"/><rect x="2388.500" y="199.500" width="55.500" height="54.500" fill="#f8d70e"/><rect x="2388.500" y="199.500" width="55.500" height="11" fill="#e2c212"/><text x="2387.500" y="184.500" text-anchor="middle" font-size="24" font-weight="700" font-family="'Liberation Sans',sans-serif" fill="#fff" textLength="27" lengthAdjust="spacingAndGlyphs">975</text><text x="2405" y="184" font-size="13" font-weight="700" font-family="'Liberation Sans',sans-serif" fill="#fff">₽</text><rect x="2375" y="187.500" width="26" height="1.500" fill="#e6f6fd"/><text x="2362.500" y="235" text-anchor="middle" font-size="17.5" font-weight="700" font-family="'Liberation Sans',sans-serif" fill="#fff" textLength="19" lengthAdjust="spacingAndGlyphs">75$</text><rect x="2353" y="237" width="13" height="1.300" fill="#d5f5d5"/><text x="2417.500" y="235" text-anchor="middle" font-size="17.5" font-weight="700" font-family="'Liberation Sans',sans-serif" fill="#fff" textLength="25" lengthAdjust="spacingAndGlyphs">900€</text><rect x="2405" y="237" width="20" height="1.300" fill="#fdf6c5"/><path d="M2511.0 142H2623.0L2605.5 177H2528.5Z" fill="#ff6a00"/><path d="M2529.0 178H2605.0L2591.5 205H2542.5Z" fill="#ffa000"/><path d="M2543.0 206H2591.0L2580.0 228H2554.0Z" fill="#ffc400"/><path d="M2554.5 229H2579.5L2574.0 240H2560.0Z" fill="#fdea10"/><path d="M2560.5 241H2573.5L2569.5 249H2564.5Z" fill="#bfe01f"/><path d="M2565.0 250H2569.0L2567.0 254H2567.0Z" fill="#4cc22c"/><rect x="2154" y="314" width="108" height="1.2" fill="#e6e9ee"/><rect x="2154" y="338" width="108" height="1.2" fill="#e6e9ee"/><rect x="2154" y="361" width="108" height="1.2" fill="#e6e9ee"/><rect x="2154" y="384" width="108" height="1.2" fill="#e6e9ee"/><rect x="2154" y="407" width="108" height="1.2" fill="#e6e9ee"/><polyline points="2153.500,393.700 2160.900,383.200 2164,389.500 2174.500,356 2187,385.300 2203.900,345.500 2213.300,366.400 2229,332.900 2254.200,384.300 2260.500,370.600" fill="none" stroke="#d3e4f4" stroke-width="1.8"/><polyline points="2154.600,372.700 2164,353.900 2173.500,374.800 2190.200,337.100 2211.200,393.700 2242.600,323.500 2250,339.200 2260.500,317.200" fill="none" stroke="#27d3a5" stroke-width="2"/><rect x="2152" y="304" width="3.500" height="112" fill="#1fd1a5"/><rect x="2260.500" y="304" width="3.500" height="112" fill="#4aa6e2"/><rect x="2344.5" y="319.0" width="14.500" height="25.500" rx="2.500" fill="#e2f6fd"/><rect x="2362.6" y="319.0" width="14.500" height="25.500" rx="2.500" fill="#1fd0f5"/><rect x="2380.7" y="319.0" width="14.500" height="25.500" rx="2.500" fill="#a4e5f8"/><rect x="2398.8" y="319.0" width="14.500" height="25.500" rx="2.500" fill="#2bd2f4"/><rect x="2416.9" y="319.0" width="14.500" height="25.500" rx="2.500" fill="#e2f6fd"/><rect x="2344.5" y="347.7" width="14.500" height="25.500" rx="2.500" fill="#2bd2f4"/><rect x="2362.6" y="347.7" width="14.500" height="25.500" rx="2.500" fill="#2bd2f4"/><rect x="2380.7" y="347.7" width="14.500" height="25.500" rx="2.500" fill="#a4e5f8"/><rect x="2398.8" y="347.7" width="14.500" height="25.500" rx="2.500" fill="#e2f6fd"/><rect x="2416.9" y="347.7" width="14.500" height="25.500" rx="2.500" fill="#2bd2f4"/><rect x="2344.5" y="376.4" width="14.500" height="25.500" rx="2.500" fill="#e2f6fd"/><rect x="2362.6" y="376.4" width="14.500" height="25.500" rx="2.500" fill="#1bc9ee"/><rect x="2380.7" y="376.4" width="14.500" height="25.500" rx="2.500" fill="#2bd2f4"/><rect x="2398.8" y="376.4" width="14.500" height="25.500" rx="2.500" fill="#a4e5f8"/><rect x="2416.9" y="376.4" width="14.500" height="25.500" rx="2.500" fill="#e2f6fd"/><rect x="2511" y="304.500" width="112" height="111" fill="#edf8fc"/><rect x="2511" y="338" width="112" height="2" fill="#fff"/><rect x="2511" y="377" width="112" height="2" fill="#fff"/><rect x="2549" y="310" width="19.5" height="24" rx="3" fill="#5fcfe0"/><rect x="2568.500" y="310" width="25.5" height="24" rx="3" fill="#9acd08"/><rect x="2532" y="347" width="36.5" height="25" rx="3" fill="#5fcfe0"/><rect x="2568.500" y="347" width="41.5" height="25" rx="3" fill="#9acd08"/><rect x="2551" y="386" width="17.5" height="24" rx="3" fill="#5fcfe0"/><rect x="2568.500" y="386" width="30.5" height="24" rx="3" fill="#9acd08"/></svg>
<div class="a" style="left:32px;top:486px;width:1736px;height:871.5px;background:#fff;border-radius:24px"></div>
<div class="a" style="left:72px;top:526px;width:1656px;height:357px;background:#b8e8fb;border-radius:18px 18px 16px 16px"></div>
<div class="a" style="left:72px;top:526px;width:1656px;height:76px;background:#00c4fb;border-radius:18px 18px 0 0"></div>
<div class="t" style="left:107px;top:550px;font-size:26.4px;line-height:30px;color:#fff;font-weight:700;">Total sessions</div>
<svg style="left:1626px;top:548px;" width="32" height="32" viewBox="0 0 32 32"><g fill="none" stroke="#9fe8fd" stroke-width="2" stroke-linejoin="round" stroke-linecap="round"><path d="M11 4Q14 1.500 17 4.500L28.500 15.500Q31 18 28.500 20.800L20 29Q17.500 31 15 28.800L3.800 16.500Q1.500 12.500 4.500 9Q7.500 5.500 11 4Z"/><path d="M16.800 4.800Q16 12 5 16.800"/></g><path d="M3 11.800Q9 11.500 15.600 9.300Q12.500 16 5.500 18.500Q6.900 21.500 5.800 24.300Q4.500 26.200 2.700 25Q1.200 22 2.200 16.500Z" fill="#9fe8fd"/></svg>
<svg style="left:1668.8px;top:555px;" width="18" height="18" viewBox="0 0 18 18"><path d="M1 1L17 17M17 1L1 17" stroke="#7aa8c4" stroke-width="2.800" fill="none"/></svg>
<div class="t" style="left:103px;top:631px;font-size:25px;line-height:28px;color:#83a3b7;">Category:</div>
<div class="t lnk" style="left:223.5px;top:631px;font-size:25.1px;line-height:28px;color:#0f58b4;padding-bottom:1px;">Open channels</div>
<div class="t" style="left:422.5px;top:632px;font-size:24.6px;line-height:27px;color:#83a3b7;">Source:</div>
<div class="t lnk" style="left:581.5px;top:632px;font-size:24.6px;line-height:27px;color:#0f58b4;padding-bottom:1px;">Sessions</div>
<div class="t" style="left:712.5px;top:631px;font-size:24.9px;line-height:28px;color:#83a3b7;">Group by:</div>
<div class="t lnk" style="left:919.5px;top:632px;font-size:24.6px;line-height:27px;color:#0f58b4;padding-bottom:1px;">Date</div>
<div class="t" style="left:103px;top:704.5px;font-size:24.9px;line-height:28px;color:#83a3b7;">Open channel:</div>
<div class="sel" style="left:103px;top:750px"><div class="t" style="left:19.8px;top:20px;font-size:31px;line-height:35px;color:#495262;">Not selected</div><svg width="22" height="14" viewBox="0 0 22 14"><path d="M2 2.500L11 11.500L20 2.500" fill="none" stroke="#495262" stroke-width="3.800"/></svg></div>
<div class="t" style="left:509.5px;top:704.5px;font-size:24.9px;line-height:28px;color:#83a3b7;">Communication chan...</div>
<div class="sel" style="left:509.5px;top:750px"><div class="t" style="left:19.8px;top:20px;font-size:31px;line-height:35px;color:#495262;">Not selected</div><svg width="22" height="14" viewBox="0 0 22 14"><path d="M2 2.500L11 11.500L20 2.500" fill="none" stroke="#495262" stroke-width="3.800"/></svg></div>
<div class="t" style="left:916px;top:704.5px;font-size:24.9px;line-height:28px;color:#83a3b7;">Responsible:</div>
<div class="sel" style="left:916px;top:750px"><div class="t" style="left:19.8px;top:20px;font-size:31px;line-height:35px;color:#495262;">Not selected</div><svg width="22" height="14" viewBox="0 0 22 14"><path d="M2 2.500L11 11.500L20 2.500" fill="none" stroke="#495262" stroke-width="3.800"/></svg></div>
<div class="t" style="left:1323px;top:704.5px;font-size:24.9px;line-height:28px;color:#83a3b7;">Calculate:</div>
<div class="sel" style="left:1323px;top:750px"><div class="t" style="left:19.8px;top:20px;font-size:31px;line-height:35px;color:#495262;">Total sessions</div><svg width="22" height="14" viewBox="0 0 22 14"><path d="M2 2.500L11 11.500L20 2.500" fill="none" stroke="#495262" stroke-width="3.800"/></svg></div>
<div class="a" style="left:72px;top:903px;width:1656px;height:357px;background:#b5e5e3;border-radius:18px 18px 16px 16px"></div>
<div class="a" style="left:72px;top:903px;width:1656px;height:76px;background:#02bcb5;border-radius:18px 18px 0 0"></div>
<div class="t" style="left:107px;top:927px;font-size:26.4px;line-height:30px;color:#fff;font-weight:700;">Rated sessions</div>
<svg style="left:1626px;top:925px;" width="32" height="32" viewBox="0 0 32 32"><g fill="none" stroke="#9be6e2" stroke-width="2" stroke-linejoin="round" stroke-linecap="round"><path d="M11 4Q14 1.500 17 4.500L28.500 15.500Q31 18 28.500 20.800L20 29Q17.500 31 15 28.800L3.800 16.500Q1.500 12.500 4.500 9Q7.500 5.500 11 4Z"/><path d="M16.800 4.800Q16 12 5 16.800"/></g><path d="M3 11.800Q9 11.500 15.600 9.300Q12.500 16 5.500 18.500Q6.900 21.500 5.800 24.300Q4.500 26.200 2.700 25Q1.200 22 2.200 16.500Z" fill="#9be6e2"/></svg>
<svg style="left:1668.8px;top:932px;" width="18" height="18" viewBox="0 0 18 18"><path d="M1 1L17 17M17 1L1 17" stroke="#7fa6aa" stroke-width="2.800" fill="none"/></svg>
<div class="t" style="left:103px;top:1008px;font-size:25px;line-height:28px;color:#85a2a8;">Category:</div>
<div class="t lnk" style="left:223.5px;top:1008px;font-size:25.1px;line-height:28px;color:#0f58b4;padding-bottom:1px;">Open channels</div>
<div class="t" style="left:422.5px;top:1009px;font-size:24.6px;line-height:27px;color:#85a2a8;">Source:</div>
<div class="t lnk" style="left:581.5px;top:1009px;font-size:24.6px;line-height:27px;color:#0f58b4;padding-bottom:1px;">Sessions</div>
<div class="t" style="left:712.5px;top:1008px;font-size:24.9px;line-height:28px;color:#85a2a8;">Group by:</div>
<div class="t" style="left:103px;top:1081.5px;font-size:24.9px;line-height:28px;color:#85a2a8;">Open channel:</div>
<div class="sel" style="left:103px;top:1127px"><div class="t" style="left:19.8px;top:20px;font-size:31px;line-height:35px;color:#495262;">Not selected</div><svg width="22" height="14" viewBox="0 0 22 14"><path d="M2 2.500L11 11.500L20 2.500" fill="none" stroke="#495262" stroke-width="3.800"/></svg></div>
<div class="t" style="left:509.5px;top:1081.5px;font-size:24.9px;line-height:28px;color:#85a2a8;">Communication chan...</div>
<div class="sel" style="left:509.5px;top:1127px"><div class="t" style="left:19.8px;top:20px;font-size:31px;line-height:35px;color:#495262;">Not selected</div><svg width="22" height="14" viewBox="0 0 22 14"><path d="M2 2.500L11 11.500L20 2.500" fill="none" stroke="#495262" stroke-width="3.800"/></svg></div>
<div class="t" style="left:916px;top:1081.5px;font-size:24.9px;line-height:28px;color:#85a2a8;">Responsible:</div>
<div class="sel" style="left:916px;top:1127px"><div class="t" style="left:19.8px;top:20px;font-size:31px;line-height:35px;color:#495262;">Not selected</div><svg width="22" height="14" viewBox="0 0 22 14"><path d="M2 2.500L11 11.500L20 2.500" fill="none" stroke="#495262" stroke-width="3.800"/></svg></div>
<div class="t" style="left:1323px;top:1081.5px;font-size:24.9px;line-height:28px;color:#85a2a8;">Calculate:</div>
<div class="sel" style="left:1323px;top:1127px"><div class="t" style="left:19.8px;top:20px;font-size:31px;line-height:35px;color:#495262;">Rated sessions</div><svg width="22" height="14" viewBox="0 0 22 14"><path d="M2 2.500L11 11.500L20 2.500" fill="none" stroke="#495262" stroke-width="3.800"/></svg></div>
<div class="t" style="left:73px;top:1282px;font-size:28.8px;line-height:32px;color:#434a56;">+ <span style="border-bottom:2px dashed #7b828c;padding-bottom:3px">add data</span></div>
<div class="a" style="left:0px;top:1381px;width:1800px;height:12px;background:linear-gradient(180deg,rgba(40,50,60,0) 0,rgba(40,50,60,.05) 40%,rgba(40,50,60,.18) 100%);"></div>
<div class="a" style="left:0px;top:1392.5px;width:1800px;height:140px;background:#fff;"></div>
<div class="a" style="left:32px;top:1425px;width:140px;height:67.5px;background:#0075ff;border-radius:20px"></div>
<div class="t" style="left:59px;top:1441px;font-size:28.9px;line-height:32px;color:#fff;-webkit-text-stroke:.5px #fff;">Create</div>
<div class="a" style="left:182px;top:1425px;width:143px;height:67.5px;background:#0075ff;border-radius:20px"></div>
<div class="t" style="left:209px;top:1441px;font-size:28.6px;line-height:32px;color:#fff;-webkit-text-stroke:.5px #fff;">Cancel</div>
<div class="a" style="left:1458px;top:1445px;width:26px;height:26px;background:#fff;border:2.500px solid #767676;border-radius:5px;box-sizing:border-box"></div>
<div class="t" style="left:1492px;top:1446.5px;font-size:26px;line-height:30px;color:#858d99;">Save as Preset</div>
<svg style="left:898px;top:665px;" width="36" height="19" viewBox="0 0 36 19"><path d="M0 19L18 1L36 19Z" fill="#fff"/></svg>
<div class="a" style="left:840px;top:683px;width:338px;height:397px;background:#fff;border-radius:26px;box-shadow:0 14px 42px rgba(60,70,85,.22),0 -2px 12px rgba(60,70,85,.06)"></div>
<div class="t" style="left:857px;top:723.5px;font-size:27.2px;line-height:31px;color:#4b5463;">Not selected</div>
<div class="t" style="left:857px;top:795.7px;font-size:27.2px;line-height:31px;color:#4b5463;">Date</div>
<div class="t" style="left:857px;top:867.9px;font-size:27.2px;line-height:31px;color:#4b5463;">Responsible</div>
<div class="t" style="left:857px;top:940.1px;font-size:27.2px;line-height:31px;color:#4b5463;">Open channel</div>
<div class="t" style="left:857px;top:1012.3px;font-size:27.2px;line-height:31px;color:#4b5463;">Communication channel</div>
<div class="a" style="left:68.5px;top:611px;width:971.5px;height:72.5px;background:transparent;border:8px solid #fa5a4c;border-radius:30px;box-sizing:border-box"></div>
<div class="a" style="left:832px;top:693.5px;width:346px;height:391px;background:transparent;border:8px solid #fa5a4c;border-radius:30px;box-sizing:border-box"></div>
</div>
</body></html>
